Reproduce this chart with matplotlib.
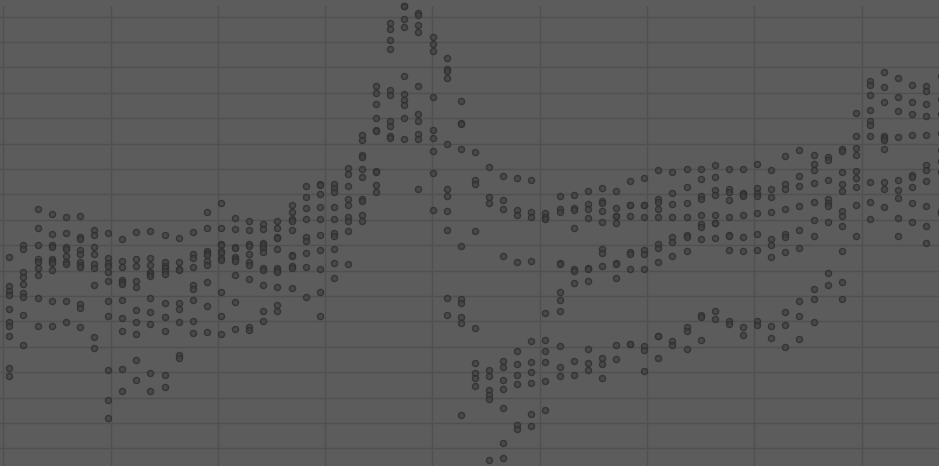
import numpy as np
import matplotlib
matplotlib.use("Agg")
import matplotlib.pyplot as plt

# one list of readings per column (columns are evenly spaced along x)
col_values = [
    [20.9, 18.0, 17.5, 17.1, 15.7, 14.4, 14.0, 13.0, 9.8, 9.0],
    [22.1, 21.7, 19.4, 18.9, 18.2, 17.3, 16.9, 15.1, 12.1],
    [25.7, 23.8, 22.1, 20.7, 20.4, 19.8, 19.1, 16.8, 14.0],
    [25.2, 23.2, 22.1, 21.9, 20.7, 20.5, 20.3, 19.6, 16.5, 14.0],
    [24.9, 23.3, 21.9, 21.7, 21.0, 20.4, 20.2, 16.5, 14.4],
    [25.0, 22.9, 22.7, 21.6, 21.2, 20.4, 20.1, 19.9, 16.2, 15.8, 13.9],
    [23.6, 23.1, 21.9, 21.2, 20.2, 19.8, 18.1, 12.9, 11.8],
    [23.3, 20.8, 20.3, 20.0, 19.4, 18.5, 16.5, 15.0, 9.6, 6.6, 4.8],
    [22.7, 20.5, 19.9, 18.6, 18.4, 18.2, 16.6, 14.8, 13.5, 9.7, 7.5],
    [23.4, 20.7, 20.0, 18.5, 17.9, 15.6, 14.4, 13.2, 10.6, 8.6],
    [23.5, 20.8, 20.1, 19.4, 19.2, 19.0, 16.8, 15.4, 14.2, 9.3, 7.5],
    [23.1, 20.4, 20.0, 19.8, 19.5, 19.2, 16.3, 14.9, 13.5, 9.1, 7.9],
    [22.8, 20.4, 19.7, 19.6, 16.3, 15.7, 14.4, 11.1, 10.8],
    [23.4, 21.2, 20.8, 19.9, 18.1, 17.7, 16.6, 14.5, 13.3],
    [25.4, 23.8, 21.5, 21.3, 21.1, 20.5, 20.1, 18.4, 16.0, 13.4],
    [26.3, 23.8, 22.2, 22.1, 21.5, 21.3, 20.8, 20.6, 17.4, 15.0, 13.2],
    [24.8, 23.7, 21.9, 21.8, 20.9, 20.7, 20.5, 19.1, 16.4, 13.7],
    [24.5, 23.6, 22.2, 22.0, 21.2, 20.4, 20.1, 18.7, 13.9, 13.6],
    [24.2, 23.7, 22.3, 22.1, 21.8, 21.4, 19.8, 19.6, 18.1, 15.5, 14.5],
    [24.5, 23.8, 22.9, 22.8, 21.7, 19.8, 19.6, 19.4, 17.9, 16.1, 15.5],
    [26.1, 25.4, 24.7, 24.5, 23.6, 21.1, 21.0, 20.0, 19.8, 17.8],
    [28.0, 26.9, 25.8, 24.7, 22.9, 22.5, 21.3, 19.9, 16.9],
    [28.2, 28.1, 27.2, 25.9, 24.7, 23.1, 21.6, 19.7, 17.4, 15.0],
    [28.2, 27.8, 27.4, 25.9, 24.7, 23.3, 23.0, 21.7, 20.3, 18.8],
    [29.8, 29.2, 28.0, 26.7, 26.1, 24.9, 24.5, 23.5, 20.2],
    [33.1, 32.6, 31.1, 30.9, 29.7, 28.9, 26.7, 26.5, 25.1, 24.5],
    [38.0, 37.3, 36.2, 34.8, 33.6, 33.5, 29.5, 29.4, 28.1, 27.4],
    [44.3, 43.7, 42.6, 41.7, 37.6, 37.1, 34.5, 34.0, 33.0, 32.8],
    [46.0, 46.0, 44.7, 43.9, 39.0, 37.2, 36.6, 36.1, 34.8, 32.7],
    [45.3, 45.1, 44.1, 43.4, 38.0, 35.2, 34.5, 33.2, 32.7, 27.7],
    [42.9, 42.2, 41.5, 36.9, 33.6, 32.8, 31.5, 29.3, 25.6],
    [40.8, 39.7, 39.5, 38.8, 32.2, 27.7, 27.0, 25.5, 23.6, 16.8, 15.1],
    [36.5, 34.3, 34.2, 31.7, 22.0, 16.7, 16.3, 14.9, 14.3, 5.1],
    [31.4, 28.6, 28.2, 23.5, 13.8, 10.3, 9.3, 8.8, 8.0],
    [29.9, 26.9, 26.3, 9.6, 9.0, 7.6, 7.1, 6.7, 0.6],
    [29.0, 26.6, 25.7, 21.0, 10.5, 9.9, 8.6, 7.7, 5.8, 2.3, 0.8],
    [28.8, 25.6, 25.1, 20.4, 11.5, 10.2, 9.1, 8.2, 4.1, 3.7],
    [28.6, 25.4, 24.9, 20.5, 12.5, 10.4, 9.4, 8.3, 5.2, 4.0],
    [25.3, 24.9, 24.7, 15.3, 12.6, 11.5, 10.4, 8.5, 5.6],
    [27.0, 25.7, 25.4, 20.3, 20.2, 17.4, 16.6, 15.5, 12.0, 9.9, 9.0],
    [27.1, 25.8, 25.6, 23.8, 19.7, 19.5, 18.3, 10.5, 9.1],
    [27.5, 26.2, 25.7, 24.8, 19.8, 19.7, 18.5, 11.7, 10.3, 9.6],
    [27.8, 26.5, 26.3, 25.5, 24.4, 21.7, 21.3, 20.0, 10.8, 10.2, 8.8],
    [27.5, 25.8, 25.0, 25.0, 24.3, 20.3, 20.2, 18.8, 12.1, 10.7],
    [28.5, 26.1, 26.1, 25.0, 21.4, 21.2, 19.7, 12.2, 12.2],
    [28.8, 26.1, 26.1, 24.9, 21.6, 21.2, 19.7, 12.0, 11.6, 9.5],
    [29.6, 26.7, 26.4, 25.7, 24.9, 22.2, 21.8, 20.4, 13.0, 13.0, 10.8],
    [29.4, 27.3, 26.2, 24.9, 22.9, 22.4, 21.0, 12.5, 12.1],
    [29.7, 27.9, 26.3, 24.9, 23.1, 22.9, 21.5, 13.9, 13.5, 11.7],
    [29.7, 28.7, 27.0, 26.7, 25.1, 24.2, 23.9, 22.7, 15.1, 14.9, 12.6],
    [30.1, 28.9, 27.6, 27.1, 25.1, 24.3, 24.3, 22.8, 15.5, 14.7],
    [29.7, 27.7, 27.4, 26.6, 24.9, 23.1, 23.0, 21.6, 14.5, 14.2],
    [29.7, 27.3, 27.2, 27.0, 25.1, 22.9, 21.5, 13.9, 13.1],
    [30.2, 27.8, 27.3, 27.0, 25.3, 23.2, 21.6, 14.5, 14.1],
    [29.6, 27.7, 26.9, 25.4, 22.7, 22.1, 20.9, 14.0, 12.8],
    [31.0, 28.2, 27.7, 25.7, 23.2, 22.9, 21.4, 15.4, 14.1, 11.9],
    [31.6, 29.0, 28.0, 26.0, 23.6, 21.8, 16.5, 15.0, 12.7],
    [31.1, 30.2, 29.6, 28.3, 26.4, 24.6, 23.0, 17.7, 16.7, 14.4],
    [30.9, 30.6, 28.6, 26.7, 26.3, 26.0, 24.4, 19.3, 18.1],
    [31.7, 31.5, 29.4, 28.2, 27.5, 25.5, 25.0, 24.0, 21.5, 18.4, 16.7],
    [35.3, 33.0, 31.8, 31.1, 29.5, 28.8, 27.9, 26.1, 23.0],
    [38.5, 38.1, 37.1, 35.6, 34.5, 34.1, 33.0, 28.4, 26.4, 24.7],
    [39.4, 37.9, 36.4, 33.0, 32.8, 32.6, 31.7, 28.4, 27.7, 25.9],
    [38.8, 36.9, 35.5, 32.9, 28.6, 27.6, 26.8, 24.8, 23.0],
    [38.1, 36.4, 35.2, 33.1, 29.1, 28.9, 27.9, 26.3, 24.4],
    [38.0, 37.5, 36.2, 35.0, 33.1, 30.1, 29.6, 28.5, 26.0, 24.0, 22.3],
    [39.0, 36.7, 35.2, 33.3, 31.6, 30.5, 29.4, 25.5, 25.3],
]

xs = np.concatenate([[i] * len(v) for i, v in enumerate(col_values)])
ys = np.concatenate(col_values)

bg = "#5c5c5c"
fig = plt.figure(figsize=(9.39, 4.66), dpi=100, facecolor=bg)
ax = fig.add_axes([0, 0, 1, 460 / 466])
ax.set_facecolor(bg)

ax.scatter(xs, ys, s=19, facecolor=(0.26, 0.26, 0.26, 0.7),
           edgecolor=(0.19, 0.19, 0.19, 0.85), linewidth=1.0, clip_on=False, zorder=3)

ax.set_xlim(-0.66, 65.89)
ax.set_ylim(0, 46.0)
ax.set_xticks(-0.425 + 7.604 * np.arange(9))
ax.set_yticks(1.77 + 2.539 * np.arange(18))
ax.grid(True, color="#505050", linewidth=1.0)
ax.set_axisbelow(True)
ax.tick_params(length=0, labelbottom=False, labelleft=False)
for sp in ax.spines.values():
    sp.set_visible(False)

fig.savefig("out.png", dpi=100, facecolor=bg)
